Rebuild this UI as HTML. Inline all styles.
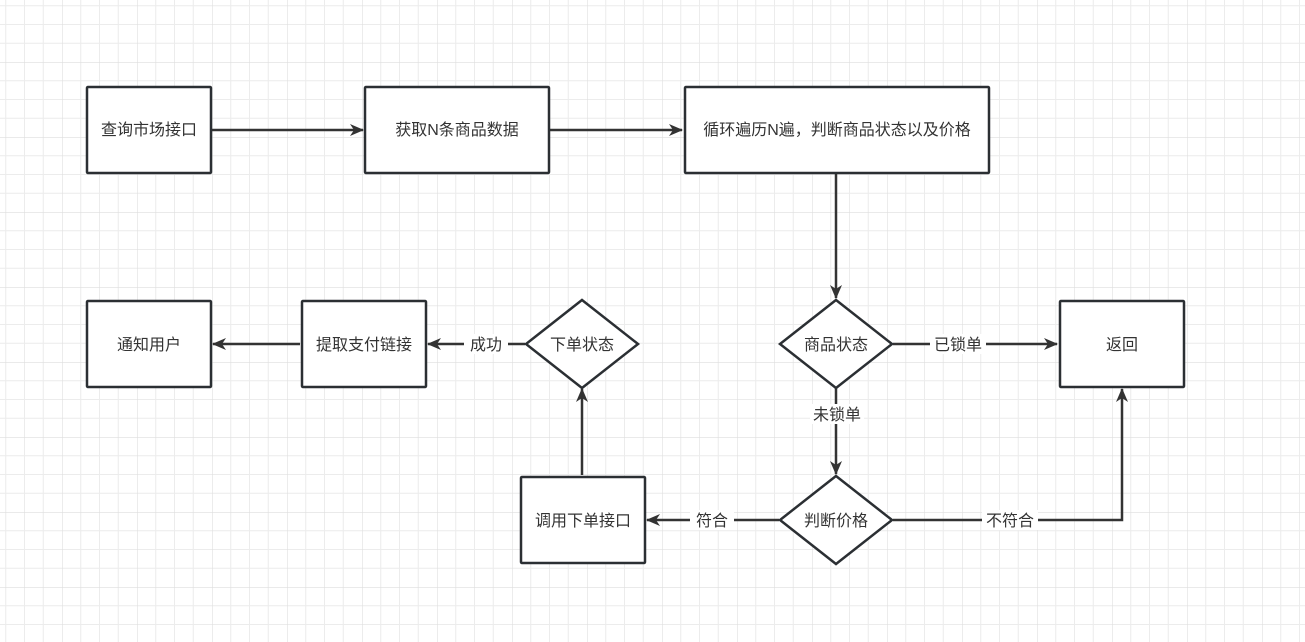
<!DOCTYPE html>
<html><head><meta charset="utf-8"><style>
html,body{margin:0;padding:0;background:#fff;}
svg{display:block;}
text{font-family:"Liberation Sans","Noto Sans CJK SC",sans-serif;font-size:16px;fill:#333;}
</style></head><body>
<svg width="1305" height="642" viewBox="0 0 1305 642" xmlns="http://www.w3.org/2000/svg">
<defs>
<pattern id="g" x="-13" y="-13" width="75" height="75" patternUnits="userSpaceOnUse">
<path d="M18.75 0V75M37.5 0V75M56.25 0V75M0 18.75H75M0 37.5H75M0 56.25H75" stroke="#ececec" stroke-width="1" fill="none"/>
<path d="M0 0V75M0 0H75" stroke="#dedede" stroke-width="1.2" fill="none"/>
</pattern>
<marker id="a" markerWidth="14" markerHeight="12" refX="13" refY="6" orient="auto" markerUnits="userSpaceOnUse">
<path d="M0,0 L14,6 L0,12 L4,6 Z" fill="#333"/>
</marker>
</defs>
<rect width="1305" height="642" fill="url(#g)"/>
<g stroke="#333" stroke-width="2.5" fill="none">
<line x1="212" y1="130" x2="363" y2="130" marker-end="url(#a)"/>
<line x1="550" y1="130" x2="682" y2="130" marker-end="url(#a)"/>
<line x1="836" y1="174" x2="836" y2="298" marker-end="url(#a)"/>
<line x1="893" y1="344" x2="1057" y2="344" marker-end="url(#a)"/>
<line x1="836" y1="388" x2="836" y2="474" marker-end="url(#a)"/>
<polyline points="893,520 1122,520 1122,389" marker-end="url(#a)"/>
<line x1="779" y1="520" x2="647" y2="520" marker-end="url(#a)"/>
<line x1="582" y1="475" x2="582" y2="389" marker-end="url(#a)"/>
<line x1="525" y1="344" x2="428" y2="344" marker-end="url(#a)"/>
<line x1="300" y1="344" x2="213" y2="344" marker-end="url(#a)"/>
</g>
<g stroke="#2b2f33" stroke-width="2.5" fill="#fff">
<rect x="87" y="87" width="124" height="86" rx="1"/>
<rect x="365" y="87" width="184" height="86" rx="1"/>
<rect x="685" y="87" width="304" height="86" rx="1"/>
<rect x="1060" y="301" width="124" height="86" rx="1"/>
<rect x="87" y="301" width="124" height="86" rx="1"/>
<rect x="302" y="301" width="124" height="86" rx="1"/>
<rect x="521" y="477" width="124" height="86" rx="1"/>
<polygon points="836,300 892,344 836,388 780,344"/>
<polygon points="582,300 638,344 582,388 526,344"/>
<polygon points="836,476 892,520 836,564 780,520"/>
</g>
<g fill="#fff">
<rect x="930" y="334" width="56" height="20"/>
<rect x="810" y="404" width="54" height="20"/>
<rect x="690" y="510" width="44" height="20"/>
<rect x="982" y="510" width="56" height="20"/>
<rect x="464" y="334" width="44" height="20"/>
</g>
<g text-anchor="middle">
<text x="149" y="135">查询市场接口</text>
<text x="457" y="135">获取N条商品数据</text>
<text x="837" y="135">循环遍历N遍，判断商品状态以及价格</text>
<text x="836" y="350">商品状态</text>
<text x="582" y="350">下单状态</text>
<text x="836" y="526">判断价格</text>
<text x="1122" y="350">返回</text>
<text x="149" y="350">通知用户</text>
<text x="364" y="350">提取支付链接</text>
<text x="583" y="526">调用下单接口</text>
<text x="958" y="350">已锁单</text>
<text x="837" y="420">未锁单</text>
<text x="712" y="526">符合</text>
<text x="1010" y="526">不符合</text>
<text x="486" y="350">成功</text>
</g>
</svg>
</body></html>
